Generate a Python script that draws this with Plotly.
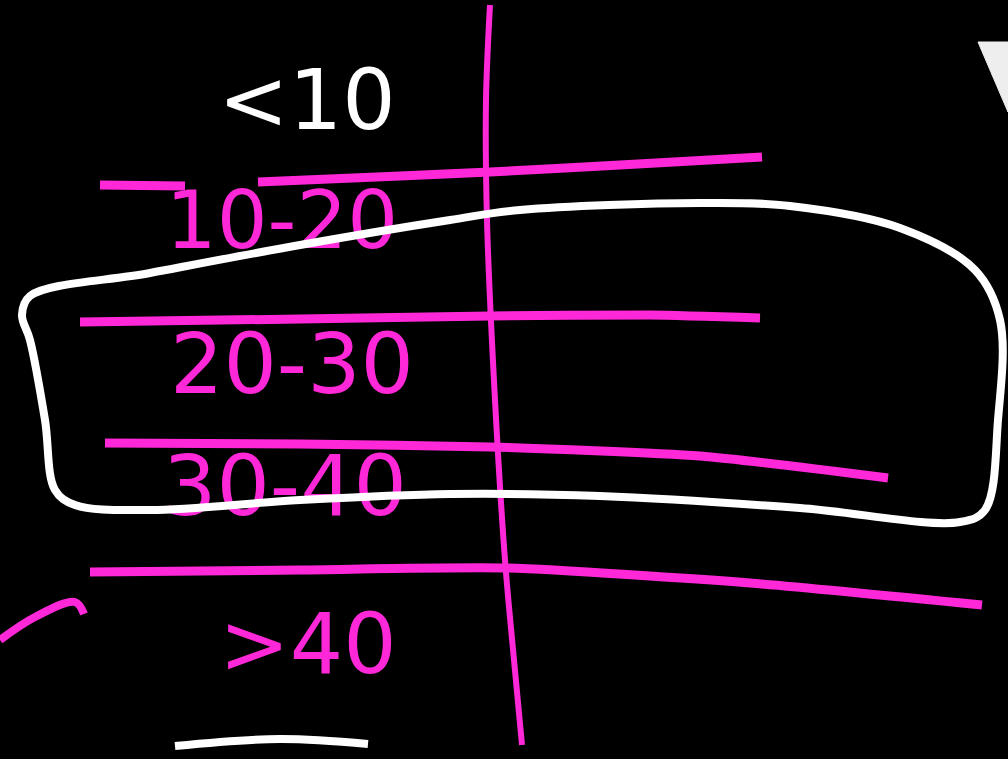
import plotly.graph_objects as go

PINK = "#ff28d8"
WHITE = "#ffffff"

# table row labels (category bins)
row_labels = ["<10", "10-20", "20-30", "30-40", ">40"]
label_x = [307, 282, 292, 285, 308]
label_y = [108, 228, 372, 494, 652]
label_sizes = [84, 80, 84, 84, 84]
label_colors = [WHITE, PINK, PINK, PINK, PINK]

# hand-drawn strokes (pixel coords of the sketch)
divider_x = [490, 486, 487, 495, 505, 514, 522]
divider_y = [5, 100, 220, 400, 560, 660, 745]

row_lines_x = [
    [100, 185],
    [258, 400, 490, 620, 762],
    [80, 300, 490, 650, 760],
    [105, 300, 490, 700, 888],
    [90, 300, 505, 750, 982],
]
row_lines_y = [
    [185, 186],
    [182, 176, 172, 165, 157],
    [322, 319, 316, 315, 318],
    [443, 444, 447, 456, 478],
    [572, 570, 568, 583, 605],
]

box_x = [30, 150, 300, 450, 520, 700, 790, 900, 975, 1000, 998, 985, 960,
         800, 600, 450, 300, 150, 75, 55, 45, 30, 22, 30]
box_y = [296, 273, 245, 220, 210, 203, 206, 228, 270, 320, 420, 510, 522,
         508, 496, 494, 500, 510, 505, 490, 420, 340, 315, 296]

curve_x = [0, 35, 75, 84]
curve_y = [640, 617, 602, 614]

underline_x = [175, 280, 368]
underline_y = [746, 739, 744]

corner_x = [978, 1008, 1008, 978]
corner_y = [42, 42, 112, 42]

fig = go.Figure()

fig.add_trace(go.Scatter(x=divider_x, y=divider_y, mode="lines",
                         line=dict(color=PINK, width=6, shape="spline"),
                         showlegend=False, hoverinfo="skip"))

for xs, ys in zip(row_lines_x, row_lines_y):
    fig.add_trace(go.Scatter(x=xs, y=ys, mode="lines",
                             line=dict(color=PINK, width=9, shape="spline", smoothing=0.6),
                             showlegend=False, hoverinfo="skip"))

fig.add_trace(go.Scatter(x=curve_x, y=curve_y, mode="lines",
                         line=dict(color=PINK, width=8, shape="spline"),
                         showlegend=False, hoverinfo="skip"))

# labels go under the white box stroke, as in the sketch
fig.add_trace(go.Scatter(x=label_x, y=label_y, mode="text", text=row_labels,
                         textfont=dict(family="DejaVu Sans", size=label_sizes, color=label_colors),
                         showlegend=False, hoverinfo="skip"))

fig.add_trace(go.Scatter(x=box_x, y=box_y, mode="lines",
                         line=dict(color=WHITE, width=8, shape="spline"),
                         showlegend=False, hoverinfo="skip"))

fig.add_trace(go.Scatter(x=underline_x, y=underline_y, mode="lines",
                         line=dict(color=WHITE, width=8, shape="spline"),
                         showlegend=False, hoverinfo="skip"))

fig.add_trace(go.Scatter(x=corner_x, y=corner_y, mode="lines", fill="toself",
                         fillcolor="#eeeeee", line=dict(color="#eeeeee", width=1),
                         showlegend=False, hoverinfo="skip"))

fig.update_layout(
    width=1008, height=759,
    margin=dict(l=0, r=0, t=0, b=0),
    paper_bgcolor="black", plot_bgcolor="black",
    xaxis=dict(range=[0, 1008], visible=False, fixedrange=True),
    yaxis=dict(range=[759, 0], visible=False, fixedrange=True),
)

fig.write_html("out.html", config={"displayModeBar": False},
               post_script="document.body.style.margin='0';document.body.style.background='black';")
